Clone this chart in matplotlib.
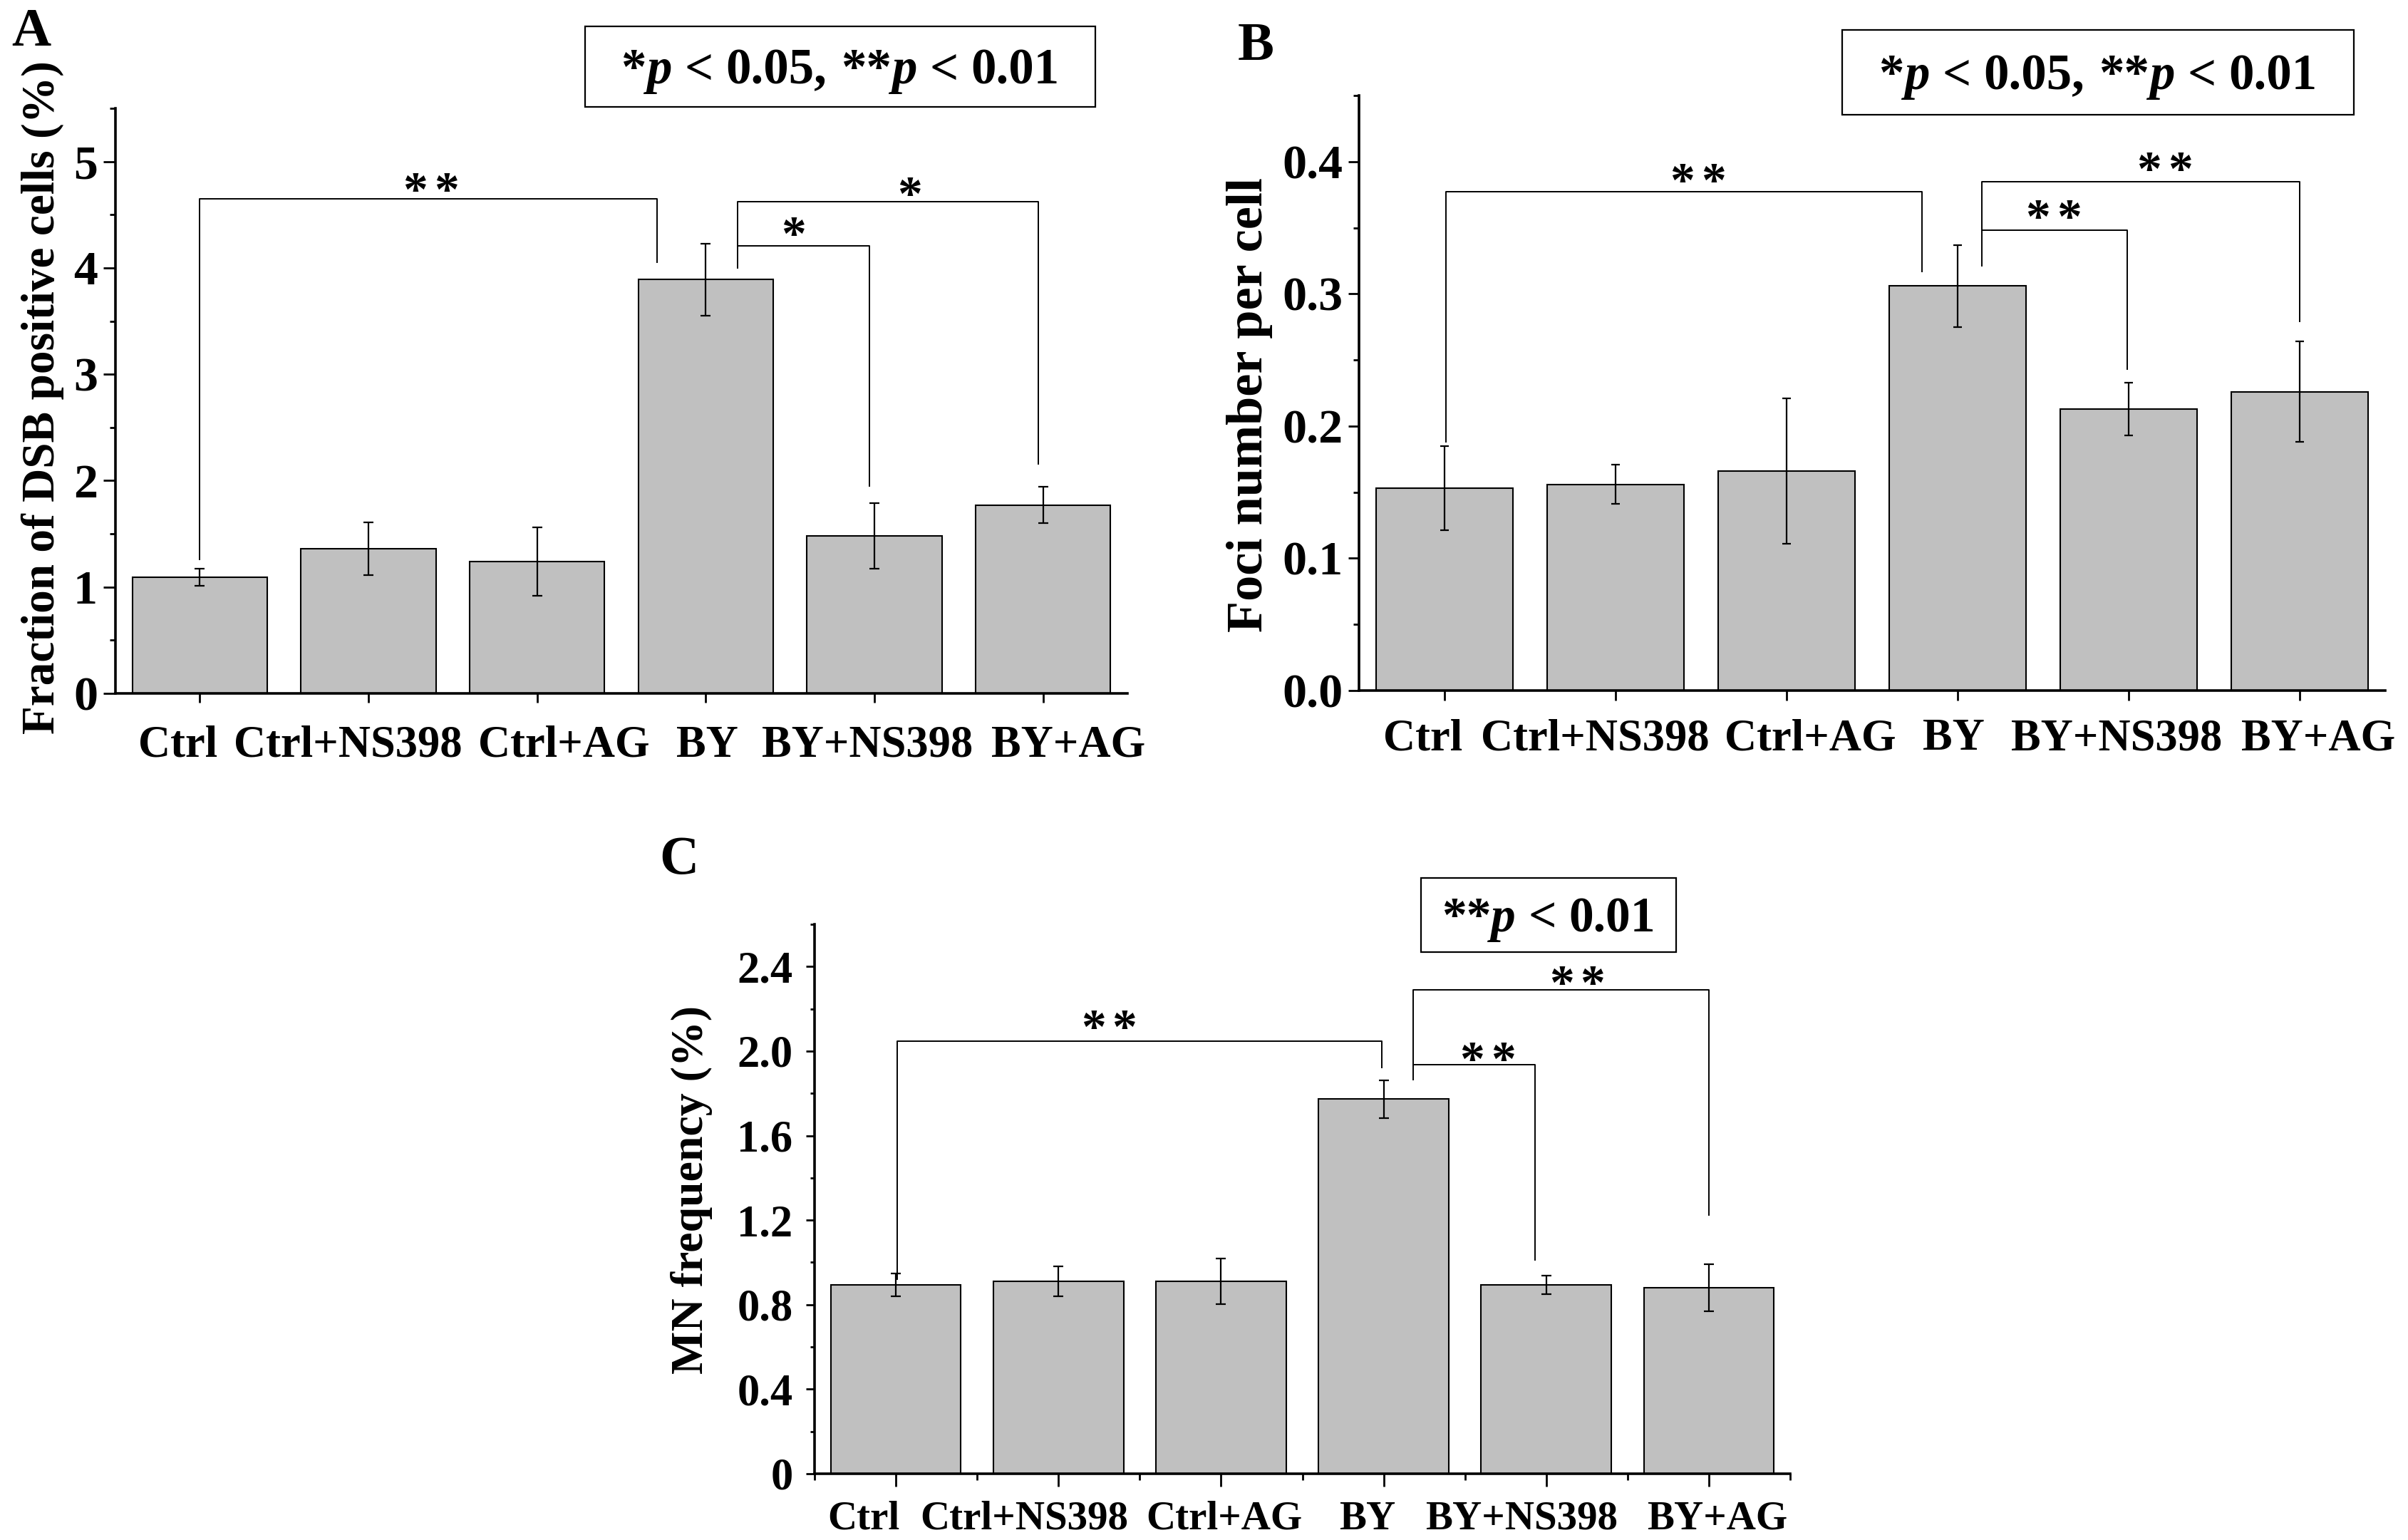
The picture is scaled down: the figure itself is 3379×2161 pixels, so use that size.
import numpy as np
import matplotlib
matplotlib.use("Agg")
import matplotlib.pyplot as plt
from matplotlib.patches import Rectangle
from matplotlib.ticker import MultipleLocator, FixedLocator, FuncFormatter
from matplotlib.transforms import offset_copy

# groups shared by all three panels
groups = ['Ctrl', 'Ctrl+NS398', 'Ctrl+AG', 'BY', 'BY+NS398', 'BY+AG']

# panel A - fraction of DSB positive cells (%)
dsb_mean = [1.09, 1.36, 1.24, 3.89, 1.48, 1.77]
dsb_err = [0.08, 0.25, 0.32, 0.34, 0.31, 0.17]

# panel B - foci number per cell
foci_mean = [0.153, 0.156, 0.166, 0.306, 0.213, 0.226]
foci_err = [0.032, 0.015, 0.055, 0.031, 0.020, 0.038]

# panel C - MN frequency (%)
mn_mean = [0.893, 0.910, 0.910, 1.773, 0.893, 0.880]
mn_err = [0.053, 0.070, 0.107, 0.090, 0.044, 0.110]

# significance brackets: (x left, left leg end, x right, right leg end, height, label, label x, label y)
dsb_sig = [
    (0.0, 1.26, 2.71, 4.05, 4.65, '**', 1.37, 4.80),
    (3.19, 4.00, 3.97, 1.95, 4.21, '*', 3.52, 4.39),
    (3.19, 4.21, 4.97, 2.16, 4.62, '*', 4.21, 4.76),
]
foci_sig = [
    (0.01, 0.188, 2.79, 0.317, 0.377, '**', 1.48, 0.391),
    (3.14, 0.321, 3.99, 0.243, 0.348, '**', 3.56, 0.364),
    (3.14, 0.348, 5.00, 0.279, 0.385, '**', 4.21, 0.400),
]
mn_sig = [
    (0.01, 0.919, 2.99, 1.921, 2.047, '**', 1.31, 2.149),
    (3.18, 1.866, 3.93, 1.010, 1.936, '**', 3.64, 1.997),
    (3.18, 1.936, 5.00, 1.224, 2.291, '**', 4.19, 2.356),
]

# where the group names sit along x (the original spreads them off the ticks)
dsb_label_x = [-0.13, 0.88, 2.16, 3.01, 3.96, 5.15]
foci_label_x = [-0.125, 0.88, 2.14, 2.975, 3.93, 5.11]
mn_label_x = [-0.2, 0.79, 2.02, 2.9, 3.85, 5.05]

W, H = 3379, 2161
plt.rcParams['font.family'] = ['Liberation Serif', 'DejaVu Serif']
plt.rcParams['font.weight'] = 'bold'

fig = plt.figure(figsize=(W / 100, H / 100), dpi=100)


def px_axes(left, top, right, bottom):
    return fig.add_axes([left / W, 1 - bottom / H, (right - left) / W, (bottom - top) / H])


def draw_panel(ax, means, errs, sig, label_x, ymax, xsize, ysize, ypad, xdrop, cap, ylen, xlen):
    x = np.arange(len(groups))
    ax.bar(x, means, width=0.8, color='#c0c0c0', edgecolor='black', linewidth=1.5,
           yerr=errs, capsize=cap, error_kw=dict(elinewidth=1.6, capthick=1.6, ecolor='black'),
           zorder=2)
    ax.set_xlim(-0.5, len(groups) - 0.5)
    ax.set_ylim(0, ymax)
    ax.set_xticks(x)
    ax.set_xticklabels([])
    for side in ['top', 'right']:
        ax.spines[side].set_visible(False)
    for side in ['left', 'bottom']:
        ax.spines[side].set_linewidth(2.6)
    ax.tick_params(axis='y', which='major', direction='out', length=ylen, width=2, labelsize=ysize, pad=ypad)
    ax.tick_params(axis='y', which='minor', direction='out', length=ylen / 2, width=2)
    ax.tick_params(axis='x', which='major', direction='out', length=xlen, width=2)
    ax.tick_params(axis='x', which='minor', direction='out', length=xlen / 2, width=2)
    # group names, baseline xdrop points below the axis
    lab_tr = offset_copy(ax.get_xaxis_transform(), fig=fig, y=-xdrop, units='points')
    for lx, name in zip(label_x, groups):
        ax.text(lx, 0, name, transform=lab_tr, ha='center', va='baseline', fontsize=xsize,
                clip_on=False)
    fs = 50
    for x1, y1, x2, y2, h, lab, lx, ly in sig:
        ax.plot([x1, x1, x2, x2], [y1, h, h, y2], color='black', lw=1.4, zorder=3)
        # stars drawn one by one, about 44 px apart like the original
        n = len(lab)
        for k in range(n):
            dx = (k - (n - 1) / 2) * 31.5
            tr = offset_copy(ax.transData, fig=fig, x=dx, y=-0.475 * fs, units='points')
            ax.text(lx, ly, '*', transform=tr, ha='center', va='baseline', fontsize=fs)


def boxed_note(x0, y0, x1, y1, parts, size):
    fig.add_artist(Rectangle((x0 / W, 1 - y1 / H), (x1 - x0) / W, (y1 - y0) / H,
                             transform=fig.transFigure, fill=False, lw=1.6, color='black'))
    r = fig.canvas.get_renderer()
    em = size * 100 / 72
    pieces = []
    for s, style, gap in parts:
        t = fig.text(0, 0, s, fontsize=size, fontstyle=style, ha='left', va='baseline')
        pieces.append((t, t.get_window_extent(r).width, gap * em))
    total = sum(w + g for _, w, g in pieces)
    cx = (x0 + x1) / 2 - total / 2
    base = (y0 + y1) / 2 + 0.676 * em / 2
    for t, w, g in pieces:
        cx += g
        t.set_position((cx / W, 1 - base / H))
        cx += w


# panel A
axA = px_axes(162, 152, 1582, 973)
draw_panel(axA, dsb_mean, dsb_err, dsb_sig, dsb_label_x, 5.5, 45, 49, 6, 64, 5, 12, 9)
axA.yaxis.set_major_locator(MultipleLocator(1))
axA.yaxis.set_minor_locator(MultipleLocator(0.5))

# panel B
axB = px_axes(1907, 134, 3347, 969)
draw_panel(axB, foci_mean, foci_err, foci_sig, foci_label_x, 0.45, 45, 49, 5, 60, 4, 11, 10)
axB.yaxis.set_major_locator(MultipleLocator(0.1))
axB.yaxis.set_minor_locator(MultipleLocator(0.05))
axB.yaxis.set_major_formatter(FuncFormatter(lambda v, p: f'{v:.1f}'))

# panel C
axC = px_axes(1143, 1297, 2512, 2068)
draw_panel(axC, mn_mean, mn_err, mn_sig, mn_label_x, 2.6, 41, 45, 13, 56, 5, 9, 13)
axC.yaxis.set_major_locator(MultipleLocator(0.4))
axC.yaxis.set_minor_locator(MultipleLocator(0.2))
axC.yaxis.set_major_formatter(FuncFormatter(lambda v, p: '0' if abs(v) < 1e-9 else f'{v:.1f}'))
axC.xaxis.set_minor_locator(FixedLocator(np.arange(len(groups) + 1) - 0.5))

# y labels and panel letters
fig.text(60 / W, 1 - 558 / H, 'Fraction of DSB positive cells (%)', rotation=90,
         ha='center', va='center', fontsize=47)
fig.text(1753 / W, 1 - 568 / H, 'Foci number per cell', rotation=90,
         ha='center', va='center', fontsize=52)
fig.text(970 / W, 1 - 1669 / H, 'MN frequency (%)', rotation=90,
         ha='center', va='center', fontsize=46)
fig.text(16 / W, 1 - 64 / H, 'A', fontsize=55, ha='left', va='baseline')
fig.text(1737 / W, 1 - 84 / H, 'B', fontsize=55, ha='left', va='baseline')
fig.text(925 / W, 1 - 1226 / H, 'C', fontsize=55, ha='left', va='baseline')

# p-value notes
both = [('*', 'normal', 0), ('p', 'italic', 0), ('<', 'normal', 0.25), ('0.05,', 'normal', 0.25),
        ('**', 'normal', 0.28), ('p', 'italic', 0), ('<', 'normal', 0.25), ('0.01', 'normal', 0.25)]
only = [('**', 'normal', 0), ('p', 'italic', 0), ('<', 'normal', 0.25), ('0.01', 'normal', 0.25)]
boxed_note(821, 37, 1537, 150, both, 51)
boxed_note(2585, 42, 3303, 161, both, 51)
boxed_note(1994, 1232, 2352, 1336, only, 50)

fig.savefig('out.png', dpi=100)
